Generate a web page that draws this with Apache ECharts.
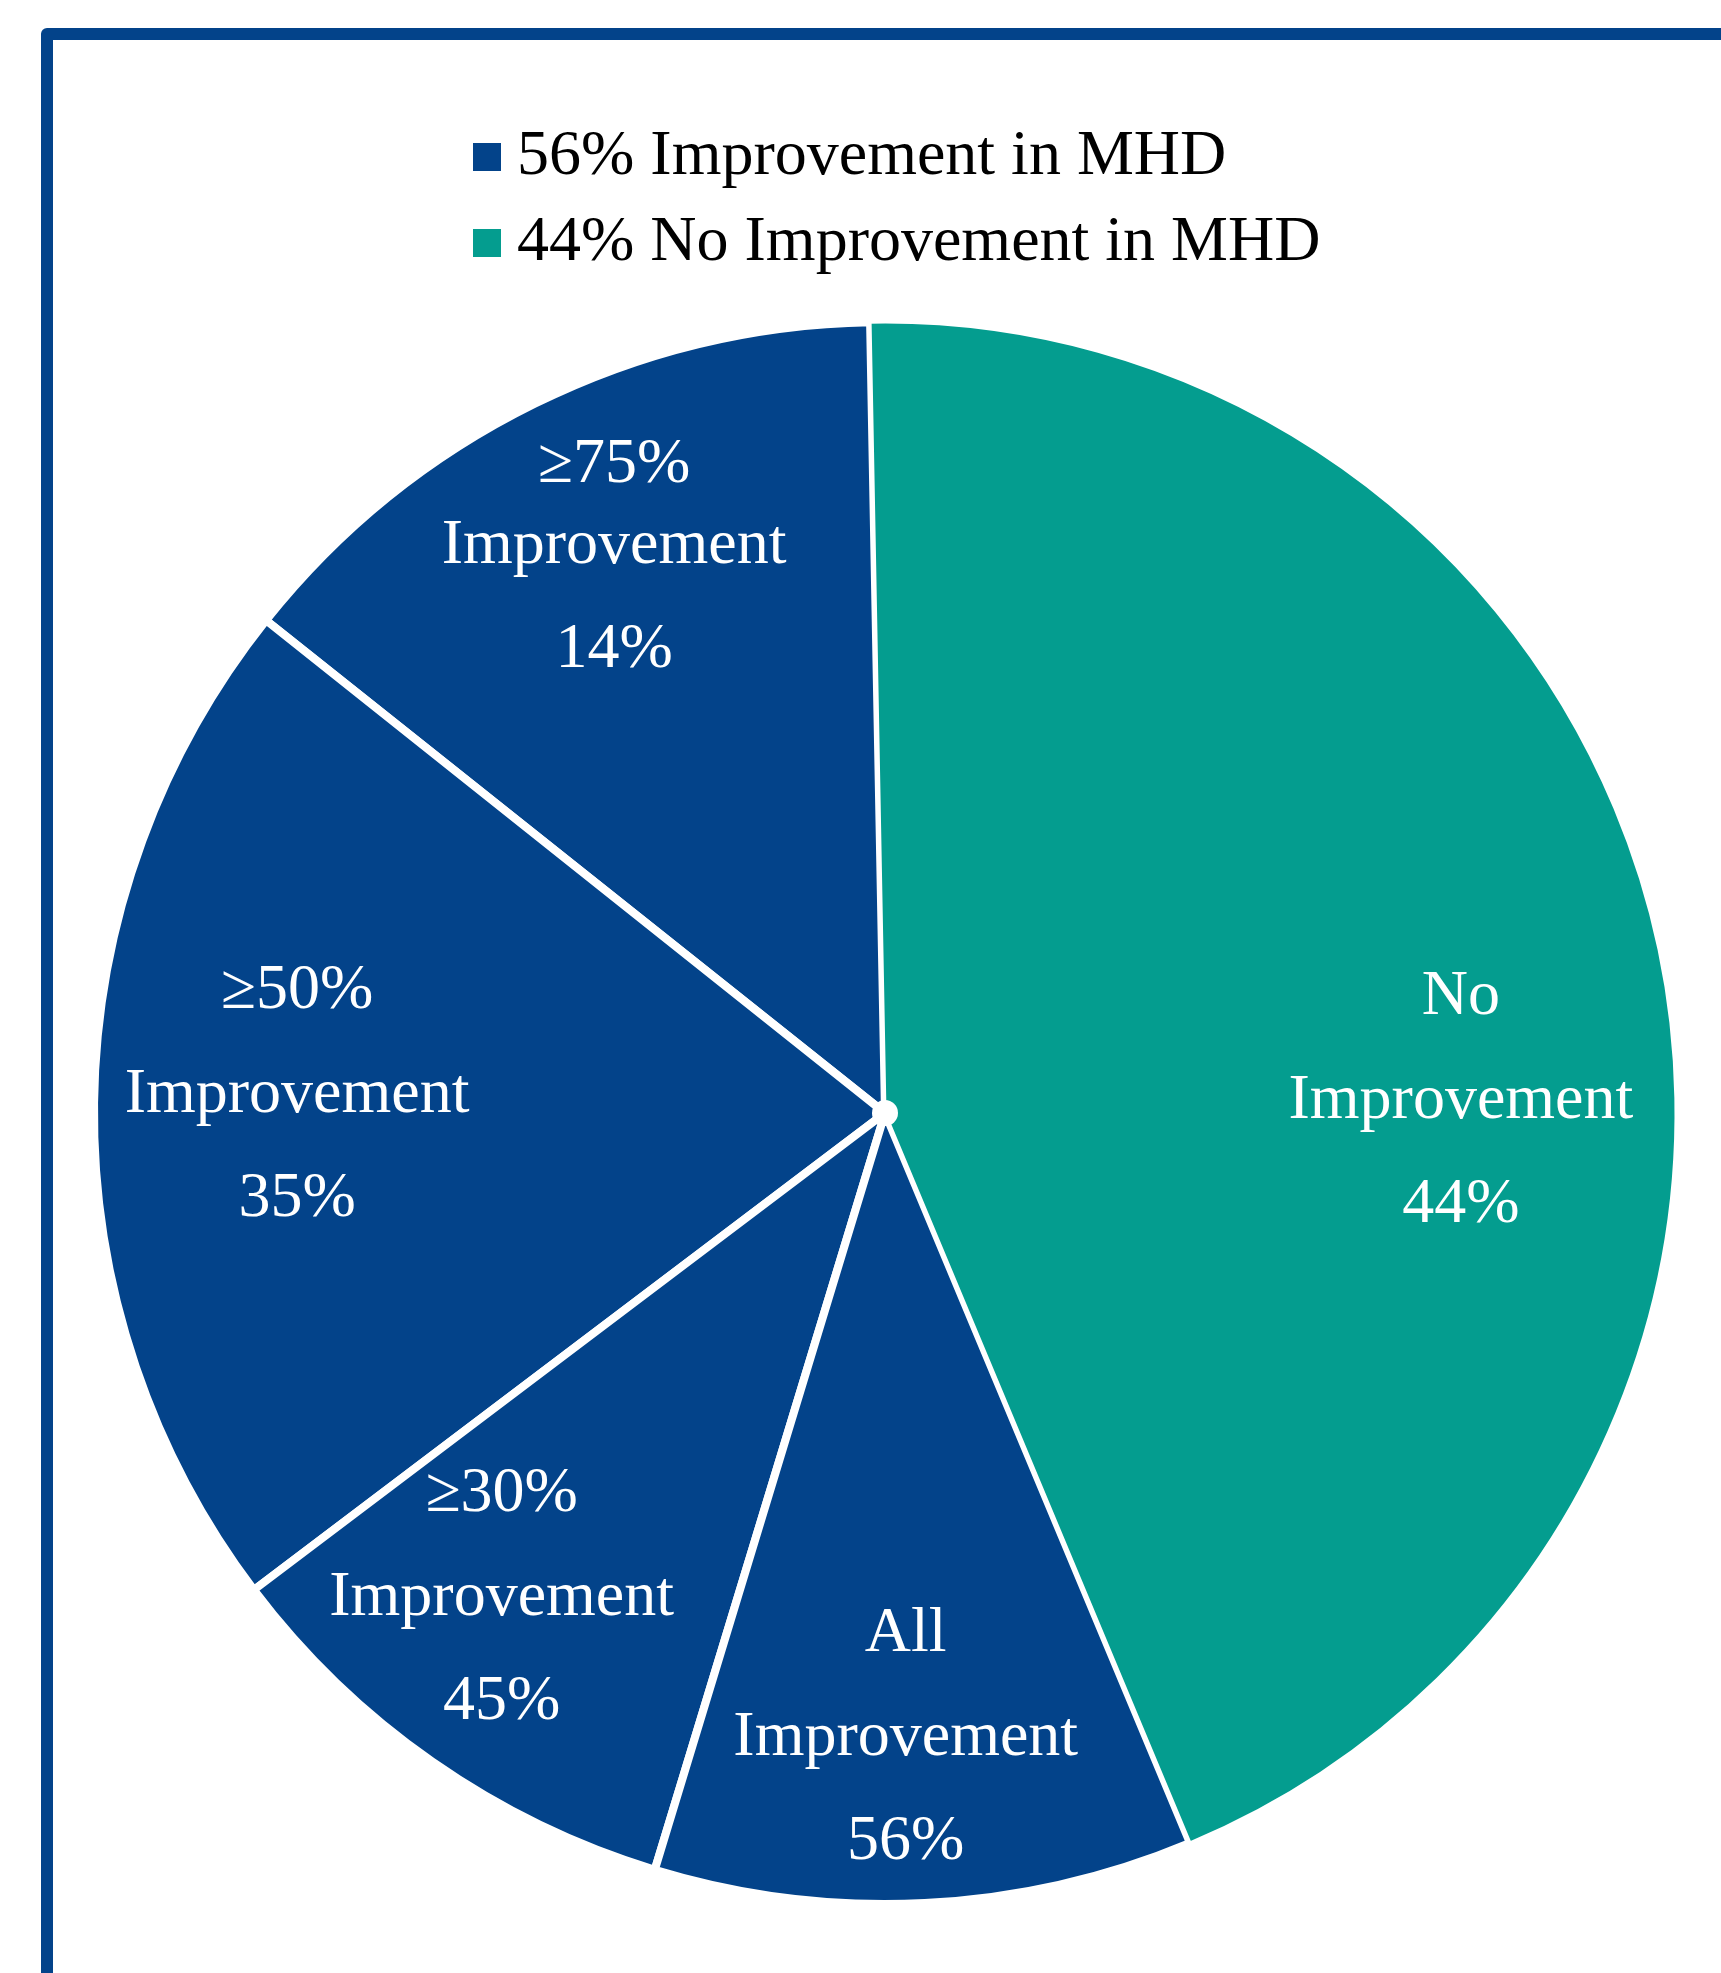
<!DOCTYPE html>
<html>
<head>
<meta charset="utf-8">
<title>Improvement in MHD</title>
<script src="https://cdn.jsdelivr.net/npm/echarts@6/dist/echarts.min.js"></script>
<style>
  html, body { margin: 0; padding: 0; background: #ffffff; }
  #chart { width: 1721px; height: 1973px; }
</style>
</head>
<body>
<div id="chart"></div>
<script>
// Improvement tiers, printed as cumulative shares of patients (%)
const tierNames = ['≥75%', '≥50%', '≥30%', 'All'];
const tierCumulative = [14, 35, 45, 56];

// Patients without improvement (%)
const noneName = 'No';
const noneValue = 44;

// Legend entries
const legendNames = ['56% Improvement in MHD', '44% No Improvement in MHD'];

// Colours
const BLUE = '#03438A';
const TEAL = '#049D8F';
const FONT = '"Liberation Serif", "Times New Roman", serif';

// Layout
const CENTER = [885, 1113];
const RADIUS = 791;

// Each tier's slice is the share added on top of the tier above it
const tierSlices = tierCumulative.map((v, i) => v - (i > 0 ? tierCumulative[i - 1] : 0));

const sliceData = tierNames.map((n, i) => ({
  name: n, value: tierSlices[i], printed: tierCumulative[i], color: BLUE, border: 8
})).concat([{ name: noneName, value: noneValue, printed: noneValue, color: TEAL, border: 3 }]);

// Small nudges for the label blocks
const labelNudge = {
  '≥75%': [0, 5],
  '≥50%': [24, -10],
  '≥30%': [-33, -17],
  'All': [-10, 14],
  'No': [-23, 114]
};

const pieCommon = {
  type: 'pie',
  center: CENTER,
  startAngle: 91.08,
  clockwise: false,
  avoidLabelOverlap: false,
  animation: false
};

const chart = echarts.init(document.getElementById('chart'), null, { renderer: 'canvas' });

chart.setOption({
  backgroundColor: '#ffffff',
  legend: {
    orient: 'vertical',
    left: 468,
    top: 120,
    itemWidth: 28,
    itemHeight: 28,
    itemGap: 22,
    icon: 'rect',
    selectedMode: false,
    data: legendNames,
    textStyle: {
      fontFamily: FONT,
      fontSize: 64,
      lineHeight: 64,
      color: '#000000',
      padding: [0, 0, 0, 11]
    }
  },
  graphic: [
    {
      type: 'rect',
      shape: { x: 47, y: 34, width: 2400, height: 3000 },
      style: { fill: null, stroke: BLUE, lineWidth: 12, lineJoin: 'round' },
      silent: true,
      z: 0
    },
    {
      type: 'circle',
      shape: { cx: CENTER[0], cy: CENTER[1], r: 13 },
      style: { fill: '#ffffff' },
      silent: true,
      z: 100
    }
  ],
  series: [
    // The slices
    Object.assign({}, pieCommon, {
      name: 'slices',
      radius: RADIUS,
      silent: true,
      label: { show: false },
      labelLine: { show: false },
      data: sliceData.map(d => ({
        name: d.name,
        value: d.value,
        itemStyle: { color: d.color, borderColor: '#ffffff', borderWidth: d.border }
      }))
    }),
    // Transparent ring that carries the in-slice labels further out
    Object.assign({}, pieCommon, {
      name: 'labels',
      radius: [Math.round(RADIUS * 0.54), RADIUS],
      silent: true,
      z: 3,
      itemStyle: { color: 'rgba(0,0,0,0)', borderWidth: 0 },
      labelLine: { show: false },
      data: sliceData.map(d => ({
        name: d.name,
        value: d.value,
        label: {
          show: true,
          position: 'inside',
          offset: labelNudge[d.name],
          formatter: (d.name === '≥75%' ? '{top|' + d.name + '}' : '{line|' + d.name + '}') +
            '\n{line|Improvement}\n{line|' + d.printed + '%}',
          rich: {
            top: { fontFamily: FONT, fontSize: 64, lineHeight: 58, color: '#ffffff' },
            line: { fontFamily: FONT, fontSize: 64, lineHeight: 104, color: '#ffffff' }
          }
        }
      }))
    }),
    // Legend carriers
    Object.assign({}, pieCommon, {
      name: legendNames[0],
      radius: 0,
      showEmptyCircle: false,
      itemStyle: { color: BLUE },
      data: []
    }),
    Object.assign({}, pieCommon, {
      name: legendNames[1],
      radius: 0,
      showEmptyCircle: false,
      itemStyle: { color: TEAL },
      data: []
    })
  ]
});
</script>
</body>
</html>
